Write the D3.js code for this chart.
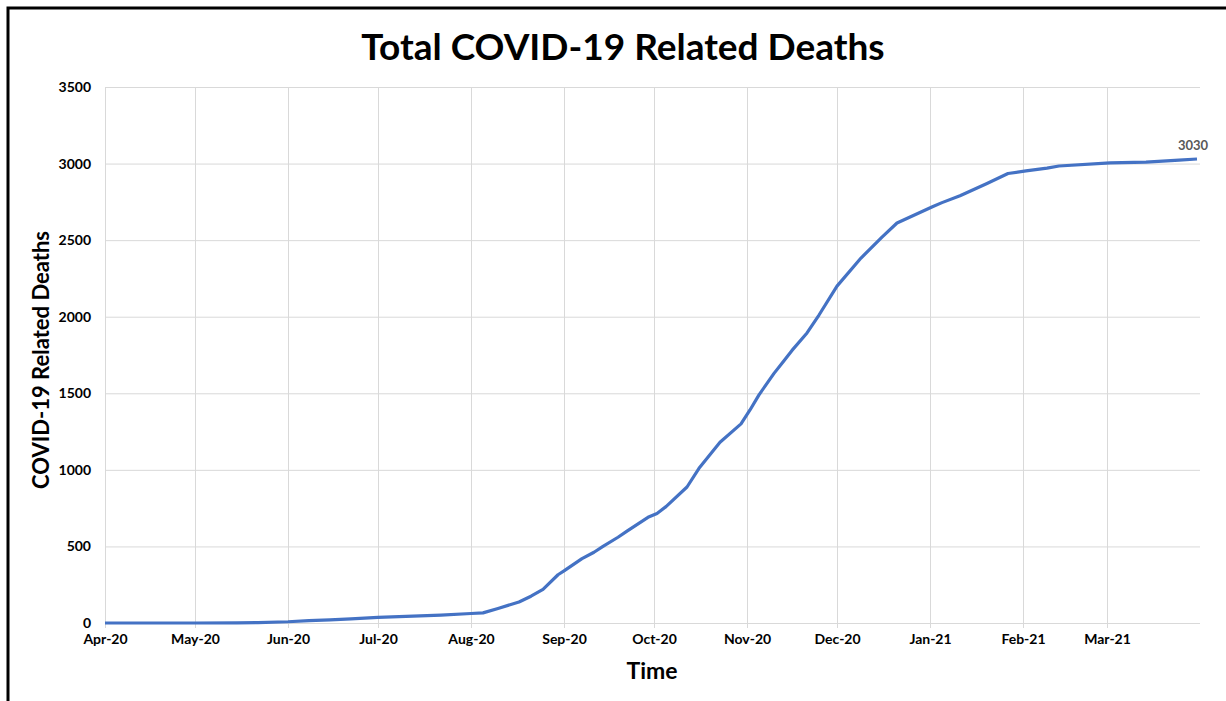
<!DOCTYPE html>
<html>
<head>
<meta charset="utf-8">
<script src="https://cdn.jsdelivr.net/npm/d3@7"></script>
<style>
  html, body { margin: 0; padding: 0; background: #fff; }
  svg { display: block; font-family: Lato, "Open Sans", sans-serif; }
</style>
</head>
<body>
<svg id="chart" width="1226" height="701"></svg>
<script>
// cumulative deaths
const dates = [
  '2020-04-01', '2020-04-15', '2020-05-01', '2020-05-15', '2020-05-22',
  '2020-06-01', '2020-06-08', '2020-06-15', '2020-06-22', '2020-07-01',
  '2020-07-08', '2020-07-15', '2020-07-22', '2020-08-01', '2020-08-05',
  '2020-08-10', '2020-08-17', '2020-08-21', '2020-08-25', '2020-08-30',
  '2020-09-01', '2020-09-07', '2020-09-11', '2020-09-14', '2020-09-19',
  '2020-09-22', '2020-09-29', '2020-10-02', '2020-10-05', '2020-10-12',
  '2020-10-16', '2020-10-23', '2020-10-30', '2020-11-02', '2020-11-05',
  '2020-11-10', '2020-11-13', '2020-11-16', '2020-11-21', '2020-11-25',
  '2020-12-01', '2020-12-09', '2020-12-16', '2020-12-21', '2021-01-02',
  '2021-01-05', '2021-01-11', '2021-01-20', '2021-01-27', '2021-02-02',
  '2021-02-09', '2021-02-13', '2021-03-02', '2021-03-14', '2021-03-25',
  '2021-03-31'
];
const deaths = [
  0, 0, 0, 1, 3,
  8, 15, 20, 27, 37,
  41, 47, 52, 62, 66,
  95, 137, 175, 220, 315,
  340, 420, 462, 500, 560,
  600, 690, 715, 760, 888,
  1010, 1180, 1300, 1391, 1490,
  1630, 1705, 1780, 1894, 2011,
  2200, 2383, 2520, 2612, 2720,
  2745, 2790, 2870, 2935, 2952,
  2970, 2984, 3005, 3010, 3023,
  3030
];
const yTicks = [0, 500, 1000, 1500, 2000, 2500, 3000, 3500];
const monthTicks = [
  '2020-04-01', '2020-05-01', '2020-06-01', '2020-07-01', '2020-08-01', '2020-09-01',
  '2020-10-01', '2020-11-01', '2020-12-01', '2021-01-01', '2021-02-01', '2021-03-01'
];
const titleText = 'Total COVID-19 Related Deaths';
const xTitle = 'Time';
const yTitle = 'COVID-19 Related Deaths';

const parse = d3.timeParse('%Y-%m-%d');
const points = dates.map((d, i) => ({ date: parse(d), value: deaths[i] }));
const ticks = monthTicks.map(parse);

const plotLeft = 105, plotRight = 1200, plotTop = 87, plotBottom = 623;

const svg = d3.select('#chart');

const x = d3.scaleTime()
  .domain([parse('2020-04-01'), parse('2021-04-01')])
  .range([plotLeft, plotRight]);
const y = d3.scaleLinear()
  .domain([0, 3500])
  .range([plotBottom, plotTop]);

// frame (top + left edges only, as in the picture)
svg.append('path')
  .attr('d', `M8,701 V8 H1226`)
  .attr('fill', 'none')
  .attr('stroke', '#000')
  .attr('stroke-width', 3);

// horizontal grid
svg.append('g')
  .attr('transform', `translate(${plotLeft},0)`)
  .call(d3.axisLeft(y).tickValues(yTicks).tickSize(-(plotRight - plotLeft)).tickFormat(''))
  .call(g => g.select('.domain').remove())
  .call(g => g.selectAll('line').attr('stroke', '#d9d9d9'));

// vertical grid
svg.append('g')
  .attr('transform', `translate(0,${plotBottom + 5})`)
  .call(d3.axisBottom(x).tickValues(ticks).tickSize(-(plotBottom - plotTop + 5)).tickFormat(''))
  .call(g => g.select('.domain').remove())
  .call(g => g.selectAll('line').attr('stroke', '#d9d9d9'));

// y tick labels
svg.append('g')
  .attr('transform', `translate(${plotLeft},0)`)
  .call(d3.axisLeft(y).tickValues(yTicks).tickSize(0).tickPadding(14).tickFormat(d3.format('d')))
  .call(g => g.select('.domain').remove())
  .call(g => g.selectAll('text')
    .attr('font-family', 'Lato, sans-serif')
    .attr('font-size', 14)
    .attr('font-weight', 700)
    .attr('fill', '#000'));

// x tick labels
svg.append('g')
  .attr('transform', `translate(0,${plotBottom})`)
  .call(d3.axisBottom(x).tickValues(ticks).tickSize(0).tickPadding(11).tickFormat(d3.timeFormat('%b-%y')))
  .call(g => g.select('.domain').remove())
  .call(g => g.selectAll('text')
    .attr('font-family', 'Lato, sans-serif')
    .attr('font-size', 14)
    .attr('font-weight', 700)
    .attr('fill', '#000'));

// the line
const line = d3.line()
  .x(d => x(d.date))
  .y(d => y(d.value));

svg.append('path')
  .datum(points)
  .attr('d', line)
  .attr('fill', 'none')
  .attr('stroke', '#4472c4')
  .attr('stroke-width', 3.2)
  .attr('stroke-linejoin', 'round');

// last value label
const last = points[points.length - 1];
svg.append('text')
  .attr('x', x(last.date) - 4)
  .attr('y', y(last.value) - 9)
  .attr('text-anchor', 'middle')
  .attr('font-size', 13)
  .attr('font-weight', 700)
  .attr('fill', '#595959')
  .text(last.value);

// titles
svg.append('text')
  .attr('x', 623)
  .attr('y', 60)
  .attr('text-anchor', 'middle')
  .attr('font-size', 37)
  .attr('font-weight', 700)
  .attr('fill', '#000')
  .text(titleText);

svg.append('text')
  .attr('x', 652)
  .attr('y', 679)
  .attr('text-anchor', 'middle')
  .attr('font-size', 23)
  .attr('font-weight', 700)
  .attr('fill', '#000')
  .text(xTitle);

svg.append('text')
  .attr('transform', `translate(49,360) rotate(-90)`)
  .attr('text-anchor', 'middle')
  .attr('font-size', 22)
  .attr('font-weight', 700)
  .attr('fill', '#000')
  .text(yTitle);
</script>
</body>
</html>
